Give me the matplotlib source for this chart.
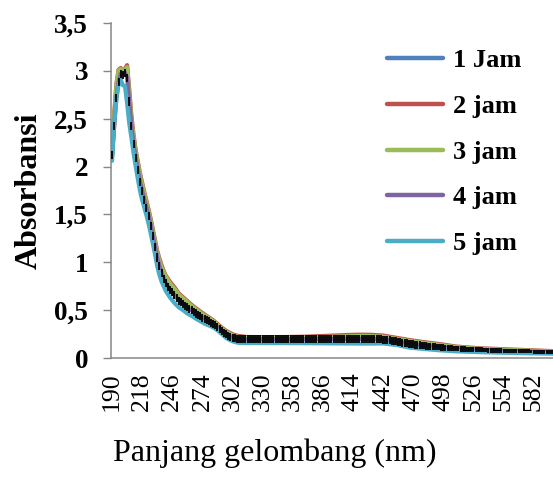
import numpy as np
import matplotlib
matplotlib.use('Agg')
import matplotlib.pyplot as plt

plt.rcParams['font.family'] = ['Liberation Serif', 'DejaVu Serif']

# panjang gelombang untuk seri 1, 2, 3, 5 jam
wl_key = [190, 192, 194, 196, 198, 200, 202, 204, 206, 208,
          210, 212, 214, 216, 218, 220, 222, 224, 226, 228,
          230, 232, 234, 236, 238, 240, 244, 248, 252, 256,
          260, 264, 268, 272, 276, 280, 284, 288, 292, 296,
          300, 304, 308, 315, 330, 350, 370, 390, 410, 420,
          430, 442, 455, 467, 480, 495, 510, 530, 550, 575,
          600]

jam1 = [2.10, 2.48, 2.78, 2.94, 2.99, 2.97, 2.99, 3.00, 2.72, 2.46,
        2.27, 2.12, 1.99, 1.87, 1.77, 1.68, 1.60, 1.51, 1.41, 1.30,
        1.19, 1.08, 0.99, 0.92, 0.86, 0.81, 0.745, 0.69, 0.63, 0.595,
        0.56, 0.52, 0.485, 0.455, 0.425, 0.397, 0.37, 0.33, 0.293, 0.26,
        0.237, 0.218, 0.207, 0.2, 0.198, 0.199, 0.201, 0.207, 0.213, 0.215,
        0.214, 0.208, 0.19, 0.167, 0.147, 0.127, 0.105, 0.09, 0.082, 0.073,
        0.064]

jam2 = [2.15, 2.55, 2.86, 3.01, 3.03, 3.00, 3.02, 3.06, 2.80, 2.53,
        2.33, 2.17, 2.05, 1.93, 1.83, 1.73, 1.64, 1.55, 1.45, 1.34,
        1.23, 1.12, 1.04, 0.97, 0.91, 0.86, 0.795, 0.74, 0.675, 0.635,
        0.595, 0.555, 0.52, 0.487, 0.455, 0.425, 0.395, 0.355, 0.318, 0.285,
        0.26, 0.24, 0.23, 0.22, 0.218, 0.219, 0.223, 0.232, 0.241, 0.244,
        0.243, 0.235, 0.21, 0.187, 0.166, 0.145, 0.12, 0.103, 0.094, 0.083,
        0.072]

jam3 = [2.13, 2.52, 2.84, 3.00, 3.02, 2.99, 3.01, 3.04, 2.76, 2.50,
        2.31, 2.15, 2.03, 1.91, 1.81, 1.71, 1.62, 1.53, 1.43, 1.32,
        1.21, 1.10, 1.02, 0.95, 0.895, 0.85, 0.78, 0.725, 0.665, 0.625,
        0.585, 0.545, 0.51, 0.478, 0.446, 0.416, 0.386, 0.345, 0.308, 0.275,
        0.25, 0.23, 0.219, 0.21, 0.208, 0.209, 0.212, 0.22, 0.228, 0.231,
        0.23, 0.223, 0.2, 0.178, 0.158, 0.137, 0.113, 0.097, 0.088, 0.078,
        0.068]

jam5 = [2.06, 2.45, 2.70, 2.86, 2.91, 2.85, 2.84, 2.66, 2.45, 2.30,
        2.14, 2.00, 1.87, 1.745, 1.65, 1.57, 1.49, 1.40, 1.30, 1.19,
        1.08, 0.96, 0.87, 0.80, 0.75, 0.70, 0.63, 0.575, 0.53, 0.50,
        0.465, 0.44, 0.41, 0.385, 0.36, 0.34, 0.32, 0.29, 0.25, 0.21,
        0.185, 0.167, 0.158, 0.157, 0.156, 0.156, 0.155, 0.153, 0.152, 0.151,
        0.151, 0.152, 0.135, 0.108, 0.095, 0.08, 0.07, 0.062, 0.056, 0.05,
        0.045]

# seri 4 jam, tiap 2 nm (190-600), dengan error bar
wl_4 = list(range(190, 601, 2))
jam4 = [2.12, 2.42, 2.72, 2.88, 2.97, 2.96, 2.98, 2.93, 2.68, 2.42,
        2.24, 2.09, 1.96, 1.84, 1.74, 1.65, 1.57, 1.48, 1.38, 1.27,
        1.16, 1.05, 0.96, 0.89, 0.83, 0.78, 0.745, 0.71, 0.685, 0.655,
        0.63, 0.60, 0.585, 0.567, 0.548, 0.53, 0.513, 0.497, 0.482, 0.465,
        0.45, 0.436, 0.422, 0.408, 0.395, 0.382, 0.37, 0.357, 0.342, 0.322,
        0.303, 0.284, 0.266, 0.248, 0.234, 0.222, 0.213, 0.206, 0.201, 0.198,
        0.196,
        # 312-360
        0.196, 0.196, 0.196, 0.196, 0.196, 0.196, 0.196, 0.196, 0.196, 0.196,
        0.196, 0.196, 0.196, 0.196, 0.196, 0.196, 0.196, 0.196, 0.197, 0.197,
        0.197, 0.197, 0.197, 0.197, 0.197,
        # 362-420
        0.197, 0.197, 0.197, 0.197, 0.197, 0.198, 0.198, 0.198, 0.198, 0.198,
        0.198, 0.198, 0.199, 0.199, 0.199, 0.199, 0.199, 0.199, 0.200, 0.200,
        0.200, 0.200, 0.200, 0.200, 0.200, 0.200, 0.200, 0.200, 0.200, 0.200,
        # 422-442
        0.200, 0.200, 0.200, 0.199, 0.199, 0.198, 0.198, 0.197, 0.196, 0.195,
        0.193,
        # 444-470
        0.191, 0.188, 0.185, 0.181, 0.177, 0.173, 0.169, 0.165, 0.161, 0.157,
        0.153, 0.149, 0.146, 0.143,
        # 472-510
        0.140, 0.137, 0.134, 0.131, 0.129, 0.126, 0.124, 0.121, 0.119, 0.117,
        0.115, 0.113, 0.111, 0.109, 0.107, 0.105, 0.104, 0.102, 0.100, 0.099,
        # 512-560
        0.098, 0.096, 0.095, 0.094, 0.092, 0.091, 0.090, 0.089, 0.088, 0.087,
        0.086, 0.085, 0.084, 0.083, 0.082, 0.081, 0.080, 0.079, 0.078, 0.078,
        0.077, 0.076, 0.075, 0.075, 0.074,
        # 562-600
        0.073, 0.073, 0.072, 0.071, 0.071, 0.070, 0.070, 0.069, 0.069, 0.068,
        0.067, 0.067, 0.066, 0.066, 0.065, 0.065, 0.064, 0.064, 0.063, 0.063]

labels = ['1 Jam', '2 jam', '3 jam', '4 jam', '5 jam']
colors = ['#4F81BD', '#C0504D', '#9BBB59', '#8064A2', '#4BACC6']
xticks = list(range(190, 583, 28))
yticks = [0, 0.5, 1, 1.5, 2, 2.5, 3, 3.5]
ytick_labels = ['0', '0,5', '1', '1,5', '2', '2,5', '3', '3,5']

fig = plt.figure(figsize=(5.53, 4.78), dpi=100)
ax = fig.add_axes([0.2007, 0.2510, 0.7993, 0.7009])

lw = 3.0
series = [(wl_key, jam1), (wl_key, jam2), (wl_key, jam3), (wl_4, jam4), (wl_key, jam5)]
for (x, y), lab, c in zip(series, labels, colors):
    ax.plot(x, y, color=c, lw=lw, label=lab, solid_capstyle='round',
            solid_joinstyle='round')

# error bar hitam pada seri 4 jam
y4 = np.array(jam4)
err = np.minimum(0.042, 0.3 * y4)
ax.vlines(wl_4, y4 - err, y4 + err, color='black', lw=1.3, zorder=5)

ax.set_xlim(189, 600)
ax.set_ylim(0, 3.5)

ax.set_xticks(xticks)
ax.set_xticklabels([str(v) for v in xticks], rotation=90, fontsize=18.5)
ax.tick_params(axis='x', length=0, pad=10.5)
ax.set_yticks(yticks)
ax.set_yticklabels(ytick_labels, fontsize=19.5, fontweight='bold')
ax.tick_params(axis='y', length=5.5, width=1, color='#868686', pad=11)

for s in ['top', 'right']:
    ax.spines[s].set_visible(False)
for s in ['left', 'bottom']:
    ax.spines[s].set_color('#868686')
    ax.spines[s].set_linewidth(1.1)

fig.text(29 / 553, 1 - 191 / 478, 'Absorbansi', rotation=90, fontsize=23,
         fontweight='bold', ha='center', va='center')
fig.text(275 / 553, 1 - 453 / 478, 'Panjang gelombang (nm)', fontsize=23,
         ha='center', va='center')

leg = fig.legend(loc='upper left', bbox_to_anchor=(387 / 553, 1 - 49 / 478),
                 frameon=False, borderpad=0, borderaxespad=0,
                 handlelength=2.12, handletextpad=0.38, labelspacing=0.84,
                 prop={'family': 'Liberation Serif', 'weight': 'bold', 'size': 19})
for line in leg.get_lines():
    line.set_linewidth(3.2)
    line.set_solid_capstyle('round')

fig.savefig('out.png', dpi=100)
